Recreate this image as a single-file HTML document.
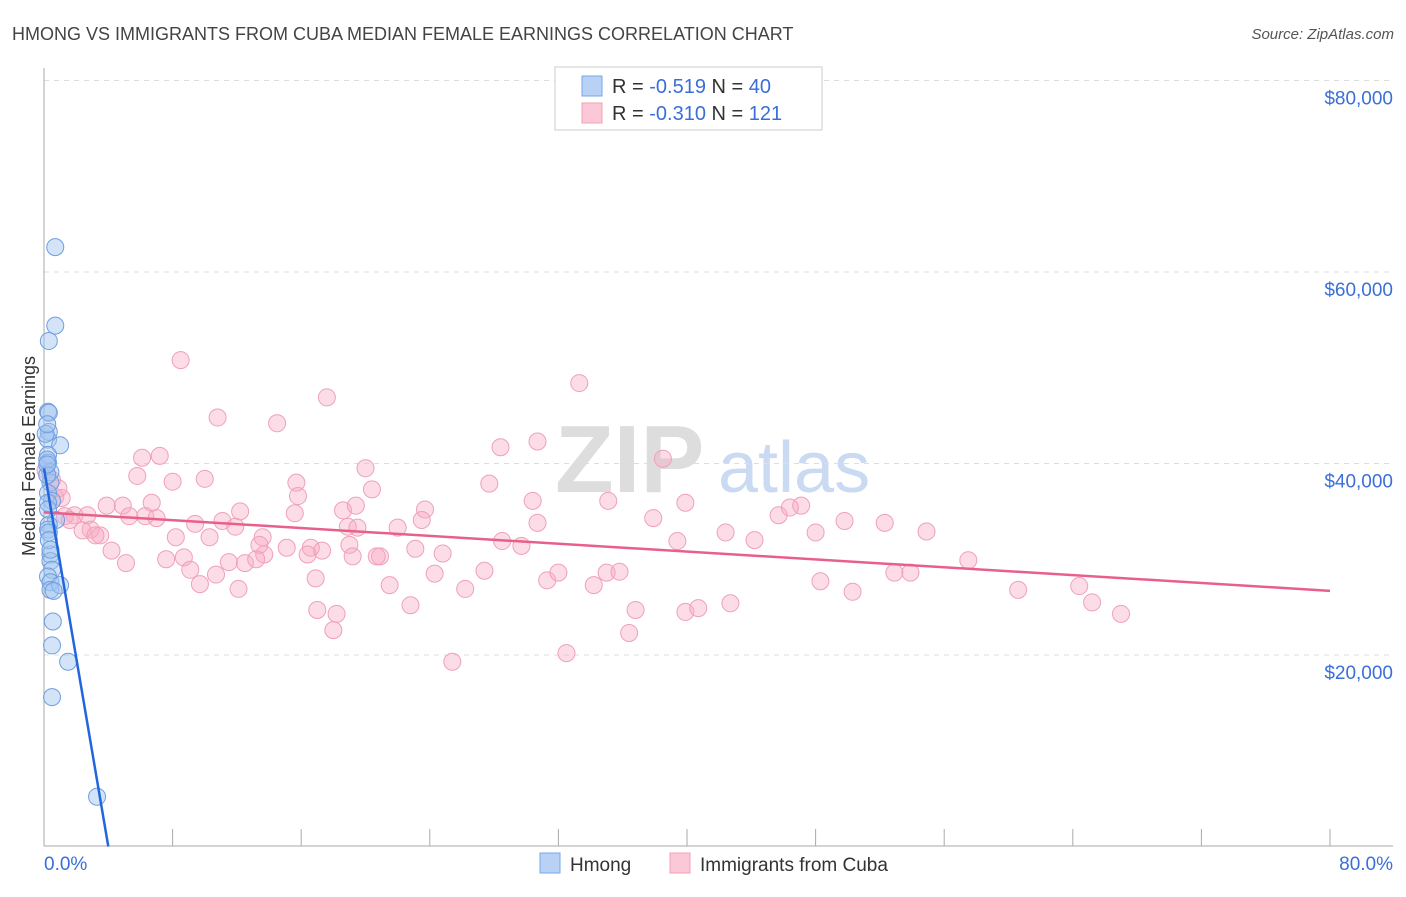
<!DOCTYPE html>
<html><head><meta charset="utf-8"><style>
body{margin:0;background:#fff;font-family:"Liberation Sans",sans-serif}
svg text{font-family:"Liberation Sans",sans-serif}
</style></head><body>
<svg id="c" width="1406" height="892" xmlns="http://www.w3.org/2000/svg">
<text x="12" y="40" font-size="18" fill="#444">HMONG VS IMMIGRANTS FROM CUBA MEDIAN FEMALE EARNINGS CORRELATION CHART</text>
<text x="1394" y="39" font-size="15" fill="#555" font-style="italic" text-anchor="end">Source: ZipAtlas.com</text>
<text transform="translate(35,456) rotate(-90)" font-size="18" fill="#333" text-anchor="middle">Median Female Earnings</text>
<g><text x="555" y="492" font-size="96" fill="#ddd" font-family="Liberation Serif" font-weight="bold">ZIP</text><text x="718" y="492" font-size="72" fill="#c9daf2">atlas</text></g>
<g id="grid"></g><g id="axes"></g><g id="pts"></g><g id="lines"></g>
<g>
<rect x="555" y="67" width="267" height="63" fill="#fff" stroke="#ccc"/>
<rect x="582" y="76" width="20" height="20" fill="#b8d2f5" stroke="#7aa6e6"/>
<rect x="582" y="103" width="20" height="20" fill="#fbc8d8" stroke="#f0a0b8"/>
<text x="612" y="93" font-size="20" fill="#333">R = <tspan fill="#3a6fd8">-0.519</tspan>   N = <tspan fill="#3a6fd8">40</tspan></text>
<text x="612" y="120" font-size="20" fill="#333">R = <tspan fill="#3a6fd8">-0.310</tspan>   N = <tspan fill="#3a6fd8">121</tspan></text>
</g>
<g>
<rect x="540" y="853" width="20" height="20" fill="#b8d2f5" stroke="#7aa6e6"/>
<text x="570" y="871" font-size="19" fill="#333">Hmong</text>
<rect x="670" y="853" width="20" height="20" fill="#fbc8d8" stroke="#f0a0b8"/>
<text x="700" y="871" font-size="19" fill="#333">Immigrants from Cuba</text>
</g>
</svg>
<script>
const yTicks=[20000,40000,60000,80000];
const yTickLabels=["$20,000","$40,000","$60,000","$80,000"];
const xTickLabels=["0.0%","80.0%"];
const hmongX=[0.7,0.7,0.3,0.25,0.3,0.3,0.25,1.0,0.25,0.25,0.4,0.4,0.25,0.5,0.75,0.3,0.25,0.3,0.4,0.4,0.5,0.25,0.4,0.4,1.0,0.6,0.55,0.5,1.5,0.5,3.3,0.25,0.25,0.2,0.2,0.3,0.4,0.2,0.1,0.2];
const hmongY=[62.6,54.4,52.8,45.4,45.3,43.3,42.5,41.9,40.9,40.1,39.1,38.0,36.9,36.1,34.1,33.6,33.1,32.8,30.5,29.8,28.9,28.2,27.6,26.8,27.3,26.7,23.5,21.0,19.3,15.6,5.2,35.9,35.2,38.8,40.4,32.0,31.0,39.9,43.1,44.1];
const cubaX=[8.5,33.3,17.6,10.8,14.5,28.4,30.7,6.1,7.2,38.5,5.8,8.0,10.0,15.7,20.0,27.7,15.8,20.4,30.4,35.1,39.9,6.7,4.9,3.9,0.7,0.5,1.1,0.1,15.6,18.6,19.4,12.2,23.7,23.5,37.9,45.7,47.1,46.4,49.8,52.3,54.9,42.4,44.2,48.0,1.3,1.9,2.7,2.9,3.5,5.3,6.3,7.0,9.4,11.1,11.9,18.9,19.5,22.0,30.7,2.4,3.2,8.2,10.3,13.6,13.7,13.4,15.1,16.6,17.3,19.0,20.9,23.1,24.8,28.5,29.7,39.4,4.2,5.1,7.6,8.7,12.5,13.2,16.4,19.2,20.7,11.5,9.1,9.7,10.7,12.1,16.9,21.5,24.3,27.4,31.3,32.0,34.2,35.0,35.8,26.2,48.3,50.3,52.9,53.9,57.5,60.6,64.4,65.2,67.0,17.0,18.2,22.8,36.8,39.9,40.7,42.7,36.4,18.0,25.4,32.5,0.9,1.6];
const cubaY=[50.8,48.4,46.9,44.8,44.2,41.7,42.3,40.6,40.8,40.5,38.7,38.1,38.4,38.0,39.5,37.9,36.6,37.3,36.1,36.1,35.9,35.9,35.6,35.6,36.5,38.3,36.4,39.3,34.8,35.1,35.6,35.0,35.2,34.1,34.3,34.6,35.6,35.4,34.0,33.8,32.9,32.8,32.0,32.8,34.5,34.6,34.6,33.1,32.5,34.5,34.5,34.3,33.7,34.0,33.4,33.4,33.3,33.3,33.8,33.0,32.5,32.3,32.3,32.3,30.5,31.5,31.2,31.2,30.9,31.5,30.3,31.1,30.6,31.9,31.4,31.9,30.9,29.6,30.0,30.2,29.6,30.0,30.5,30.3,30.3,29.7,28.9,27.4,28.4,26.9,28.0,27.3,28.5,28.8,27.8,28.6,27.3,28.6,28.7,26.9,27.7,26.6,28.6,28.6,29.9,26.8,27.2,25.5,24.3,24.7,24.3,25.2,24.7,24.5,24.9,25.4,22.3,22.6,19.3,20.2,37.4,34.1];
const hmongTrendX=[0,4.0];
const hmongTrendY=[39.5,0];
const cubaTrendX=[0,80];
const cubaTrendY=[34.9,26.7];

const NS="http://www.w3.org/2000/svg";
const X0=44,X1=1393,Y0=846.5;
const sx=v=>X0+v*(1286/80);
const sy=v=>Y0-v*(191.5/20000);
function mk(t,a,p){const e=document.createElementNS(NS,t);for(const k in a)e.setAttribute(k,a[k]);p.appendChild(e);return e;}
const grid=document.getElementById('grid'),axes=document.getElementById('axes'),pts=document.getElementById('pts'),lines=document.getElementById('lines');
yTicks.forEach((t,i)=>{
  const l=mk('line',{x1:X0,x2:X1,y1:sy(t),y2:sy(t),stroke:'#ddd','stroke-dasharray':'5,5'},grid);
  
  
  const tx=mk('text',{x:1393,y:sy(t)+24,'font-size':19,fill:'#3a6fd8','text-anchor':'end'},axes);
  tx.textContent=yTickLabels[i];
  
  
});
const ya=mk('line',{x1:X0,x2:X0,y1:68,y2:846,stroke:'#aaa'},axes);


const xa=mk('line',{x1:X0,x2:X1,y1:846,y2:846,stroke:'#aaa'},axes);


for(let k=0;k<=10;k++){
  const t=mk('line',{x1:sx(k*8),x2:sx(k*8),y1:829,y2:846,stroke:'#aaa'},axes);
  
  
}
const xl0=mk('text',{x:44,y:870,'font-size':19,fill:'#3a6fd8'},axes);xl0.textContent=xTickLabels[0];


const xl1=mk('text',{x:1393,y:870,'font-size':19,fill:'#3a6fd8','text-anchor':'end'},axes);xl1.textContent=xTickLabels[1];


cubaX.forEach((v,i)=>{
  const c=mk('circle',{cx:sx(v),cy:sy(cubaY[i]*1000),r:8.5,fill:'rgba(248,170,195,0.4)',stroke:'#f0a0b8','stroke-width':1},pts);
  
  
});
hmongX.forEach((v,i)=>{
  const c=mk('circle',{cx:sx(v),cy:sy(hmongY[i]*1000),r:8.5,fill:'rgba(160,196,240,0.45)',stroke:'#6f9ee0','stroke-width':1},pts);
  
  
});
const cl=mk('line',{x1:sx(cubaTrendX[0]),y1:sy(cubaTrendY[0]*1000),x2:sx(cubaTrendX[1]),y2:sy(cubaTrendY[1]*1000),stroke:'#e8608a','stroke-width':2.5},lines);


const hl=mk('line',{x1:sx(hmongTrendX[0]),y1:sy(hmongTrendY[0]*1000),x2:sx(hmongTrendX[1]),y2:sy(hmongTrendY[1]*1000),stroke:'#2266dd','stroke-width':2.5},lines);


</script>
</body></html>
